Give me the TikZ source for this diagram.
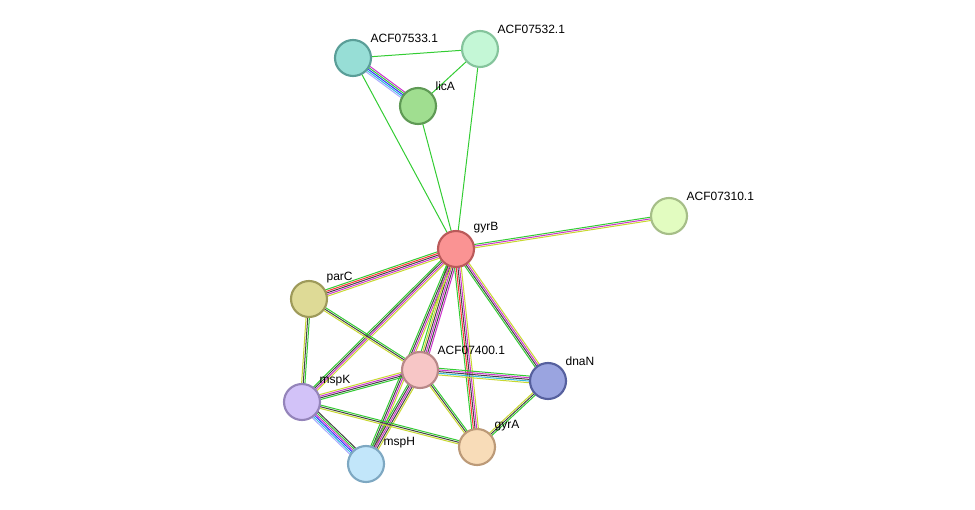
\documentclass[tikz,border=0pt]{standalone}
\usepackage{fontspec}
\setmainfont{Liberation Sans}
\usetikzlibrary{calc}
\definecolor{G}{HTML}{33CC33}
\definecolor{K}{HTML}{444444}
\definecolor{M}{HTML}{CC33CC}
\definecolor{R}{HTML}{FF3333}
\definecolor{Y}{HTML}{C8D830}
\definecolor{C}{HTML}{33BBDD}
\definecolor{B}{HTML}{3333FF}
\definecolor{L}{HTML}{AAAAFF}
\newcommand\edg[4]{\foreach \c [count=\i] in {#4} {\pgfmathsetmacro\o{(\i-(#3+1)/2)*1.25}
 \draw[\c,line width=0.75pt] ($(#1)!\o pt!90:(#2)$) -- ($(#2)!\o pt!-90:(#1)$);}}
\newcommand\mknode[5]{\definecolor{f#1}{HTML}{#3}\definecolor{d#1}{HTML}{#4}
 \node[nd,fill=f#1,draw=d#1] (n#1) at (#2) {};}
\begin{document}
\begin{tikzpicture}[x=0.75pt,y=-0.75pt,
 nd/.style={circle,minimum size=27pt,inner sep=0pt,line width=1.6pt},
 lb/.style={font=\fontsize{9}{10}\selectfont,anchor=south west,inner sep=1pt}]
\useasboundingbox (0,0) rectangle (975,510);
\coordinate (a533) at (353,58);
\coordinate (a532) at (480,49);
\coordinate (lic) at (418,106);
\coordinate (a310) at (669,216);
\coordinate (gyrB) at (456,249);
\coordinate (parC) at (309,299);
\coordinate (a400) at (420,370);
\coordinate (dnaN) at (548,381);
\coordinate (mspK) at (302,402);
\coordinate (gyrA) at (477,447);
\coordinate (mspH) at (366,464);
\edg{a533}{a532}{1}{G}
\edg{a533}{lic}{5}{L,C,B,G,M}
\edg{a532}{lic}{1}{G}
\edg{a533}{gyrB}{1}{G}
\edg{a532}{gyrB}{1}{G}
\edg{lic}{gyrB}{1}{G}
\edg{gyrB}{a310}{3}{Y,M,G}
\edg{gyrB}{parC}{5}{G,R,K,M,Y}
\edg{gyrB}{mspK}{4}{G,K,M,Y}
\edg{gyrB}{a400}{6}{G,Y,K,M,K,M}
\edg{gyrB}{mspH}{4}{G,K,M,Y}
\edg{gyrB}{gyrA}{5}{G,R,K,M,Y}
\edg{gyrB}{dnaN}{4}{G,K,M,Y}
\edg{parC}{mspK}{3}{Y,K,G}
\edg{parC}{a400}{3}{Y,K,G}
\edg{a400}{dnaN}{5}{Y,C,K,M,G}
\edg{a400}{mspK}{4}{Y,M,K,G}
\edg{a400}{mspH}{5}{G,K,M,K,Y}
\edg{a400}{gyrA}{3}{Y,K,G}
\edg{mspK}{mspH}{6}{L,C,B,M,G,K}
\edg{mspK}{gyrA}{3}{Y,K,G}
\edg{dnaN}{gyrA}{3}{Y,K,G}
\mknode{533}{a533}{97DED6}{5A9E98}{}
\mknode{532}{a532}{C4F7D6}{85C49C}{}
\mknode{lic}{lic}{A0DE90}{5F9A55}{}
\mknode{310}{a310}{E2FCC0}{A6BE88}{}
\mknode{gyrB}{gyrB}{FA9393}{BA5A5A}{}
\mknode{parC}{parC}{DEDA96}{9E9A5A}{}
\mknode{400}{a400}{F7C6C6}{B88888}{}
\mknode{dnaN}{dnaN}{9AA4E0}{56609E}{}
\mknode{mspK}{mspK}{D2C2F8}{9484BA}{}
\mknode{gyrA}{gyrA}{F8DCB8}{BC9A78}{}
\mknode{mspH}{mspH}{C2E6FA}{7EA8C2}{}
\node[lb] at (369,44) {ACF07533.1};
\node[lb] at (496,35) {ACF07532.1};
\node[lb] at (434,92) {licA};
\node[lb] at (685,202) {ACF07310.1};
\node[lb] at (472,235) {gyrB};
\node[lb] at (325,285) {parC};
\node[lb] at (436,356) {ACF07400.1};
\node[lb] at (564,367) {dnaN};
\node[lb] at (318,388) {mspK};
\node[lb] at (493,433) {gyrA};
\node[lb] at (382,450) {mspH};
\end{tikzpicture}
\end{document}
